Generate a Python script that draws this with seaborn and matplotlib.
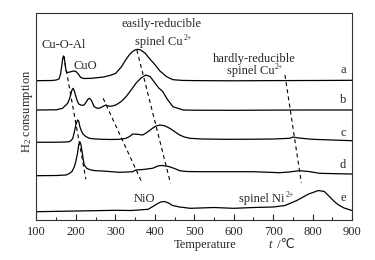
import matplotlib
matplotlib.use("Agg")
import matplotlib.pyplot as plt
import seaborn as sns
import pandas as pd
from matplotlib.ticker import MultipleLocator

# curves (temperature in degC, stacked signal in a.u.)
t_a = [100, 140, 150, 157, 161, 164, 166.5, 168.5, 170.5, 172.5, 175, 178, 185, 193, 200, 206, 212, 220, 240, 270,
       290, 301, 315, 326, 335, 343, 350, 356, 363, 375, 386, 400, 413, 430, 446, 470, 500, 600, 700, 800, 900]
y_a = [139.3, 139.5, 140, 141, 146, 154, 161.5, 164, 162.5, 156, 149, 147.5, 148, 149, 148.5, 146, 142.5, 141.5, 141.7, 143,
       145, 146.7, 153, 160, 165, 168.3, 170, 170.7, 170.2, 167, 161.7, 155.5, 149, 143.3, 140.3, 139.6, 139.4, 139.2, 139.4, 139.5, 139.7]

t_b = [100, 150, 166, 179, 184, 187.5, 190.5, 193, 196, 200, 203.5, 207, 214, 221, 226, 230, 234, 237.5, 241, 246,
       252, 259, 268, 276, 284, 292, 301, 315, 327, 340, 352, 365, 377, 388, 398, 410, 420, 430, 446, 472,
       500, 600, 700, 800, 900]
y_b = [110, 110.2, 111.7, 116.7, 121.5, 126.7, 130.5, 131.7, 129, 123.3, 119, 116, 114.7, 115, 118, 120.5, 121.7, 120.7, 118, 113.5,
       112, 111.7, 113.5, 115, 113.7, 114, 115, 118.5, 123.3, 130, 136.7, 142, 145, 143.5, 138.3, 132, 128.5, 121.7, 113.3, 110,
       109.8, 109.7, 109.9, 110, 110]

t_c = [100, 150, 175, 183, 188, 192, 196, 200, 204, 207, 210, 214, 218, 225, 234, 250, 268, 290, 310, 327,
       336, 344, 356, 369, 378, 386, 395, 403, 413, 425, 438, 450, 463, 475, 489, 520, 582, 650, 700, 742,
       750, 765, 800, 850, 900]
y_c = [77.7, 77.8, 78, 78.3, 79.5, 81.7, 88, 95.5, 100, 99, 93.3, 89, 86, 83.5, 81.7, 81, 80.7, 80.5, 80.7, 81.7,
       83.5, 86, 85.7, 85, 87, 89.3, 92, 94, 95, 94.2, 91.7, 88.5, 85, 83, 81.7, 81, 80.7, 80.8, 81, 81.7,
       83, 82, 80.7, 80, 79.3]

t_d = [100, 150, 175, 183, 190, 196, 200, 204, 207, 210, 212.5, 215, 218, 221, 228, 238, 250, 268, 290, 310,
       330, 344, 352, 370, 394, 410, 420, 435, 450, 463, 480, 520, 582, 650, 716, 740, 767, 790, 818, 860, 900]
y_d = [44.3, 44.5, 45, 46.5, 48.5, 53.3, 59, 66.7, 75, 78.3, 76, 70, 62, 55, 51.5, 50, 49.3, 49, 48.3, 47.7,
       48, 48.3, 50, 50.5, 51.7, 54.3, 54.5, 53.5, 51.5, 49.3, 48.5, 48.3, 48.3, 48.3, 47.3, 48, 49.3, 48.5, 46.7, 46.3, 46]

t_e = [100, 200, 300, 340, 383, 395, 405, 415, 425, 435, 445, 463, 490, 550, 600, 650, 700, 730, 760, 790,
       815, 830, 843, 855, 866, 880, 900]
y_e = [8.3, 9, 9.7, 9.5, 10.7, 13.5, 16, 18, 18.5, 17, 14.5, 13, 11.7, 12.5, 11.7, 12.5, 13, 14.5, 19.5, 26,
       29.5, 28.5, 23.3, 18.5, 15, 12, 9.5]

samples = ["a", "b", "c", "d", "e"]

# dashed guide lines (start, end)
guide_t = [[169, 225.3], [269, 366.4], [354.5, 439.8], [730, 771.5]]
guide_y = [[164, 40.7], [121.7, 38.3], [170, 36.7], [145, 37.3]]

sns.set_style("ticks")
plt.rcParams["font.family"] = ["Liberation Serif", "DejaVu Sans"]
plt.rcParams["mathtext.fontset"] = "custom"
plt.rcParams["mathtext.rm"] = "Liberation Serif"
plt.rcParams["mathtext.it"] = "Liberation Serif:italic"

fig = plt.figure(figsize=(3.75, 2.6), dpi=100)
ax = fig.add_axes([0.0973, 0.1538, 0.8414, 0.7962])

curves = [(t_a, y_a), (t_b, y_b), (t_c, y_c), (t_d, y_d), (t_e, y_e)]
for (tt, yy), name in zip(curves, samples):
    df = pd.DataFrame({"T": tt, "H2": yy})
    sns.lineplot(data=df, x="T", y="H2", ax=ax, color="black", lw=0.9,
                 estimator=None, sort=False)

for gt, gy in zip(guide_t, guide_y):
    ax.plot(gt, gy, color="black", lw=0.8, dashes=(3.5, 3))

fs = 9


def ion_label(x_end, y, text, charge):
    # text ending at x_end, small raised charge right after it
    ax.text(x_end, y, text, ha="right", va="baseline", fontsize=fs)
    ax.annotate(charge, xy=(x_end, y), xytext=(0.4, 3.6), textcoords="offset points",
                ha="left", va="baseline", fontsize=5.5)


ax.text(169, 171.7, "Cu-O-Al", ha="center", va="baseline", fontsize=fs)
ax.text(222.8, 150.7, "CuO", ha="center", va="baseline", fontsize=fs)
ax.text(417.8, 193.3, "easily-reducible", ha="center", va="baseline", fontsize=fs)
ion_label(471, 175.5, "spinel Cu", "2+")
ax.text(653, 158.5, "hardly-reducible", ha="center", va="baseline", fontsize=fs)
ion_label(703, 146, "spinel Cu", "2+")
ax.text(374.7, 18.3, "NiO", ha="center", va="baseline", fontsize=fs)
ion_label(730, 18.3, "spinel Ni", "2+")

letter_y = [150, 120, 86.7, 55, 21.7]
for name, ly in zip(samples, letter_y):
    ax.text(877, ly, name, ha="center", va="center", fontsize=fs)

ax.set_xlim(100, 900)
ax.set_ylim(0, 207)
ax.set_yticks([])
ax.xaxis.set_major_locator(MultipleLocator(100))
ax.xaxis.set_minor_locator(MultipleLocator(50))
ax.tick_params(axis="x", which="major", direction="in", length=4.5, width=0.8, labelsize=fs, pad=4, top=False)
ax.tick_params(axis="x", which="minor", direction="in", length=2.5, width=0.8, top=False)
for s in ax.spines.values():
    s.set_linewidth(0.8)
    s.set_color("#333333")

ax.set_ylabel("H$_2$ consumption", fontsize=fs)
ax.yaxis.set_label_coords(-0.004, 0.527)
ax.set_xlabel("Temperature", fontsize=fs)
ax.xaxis.set_label_coords(0.535, -0.09)
ax.text(0.735, -0.09, "t", transform=ax.transAxes, ha="left", va="top",
        fontsize=fs, style="italic")
ax.text(0.752, -0.09, " /\u2103", transform=ax.transAxes, ha="left", va="top",
        fontsize=fs, family=["Liberation Serif", "DejaVu Sans"])

fig.savefig("out.png", dpi=100)
